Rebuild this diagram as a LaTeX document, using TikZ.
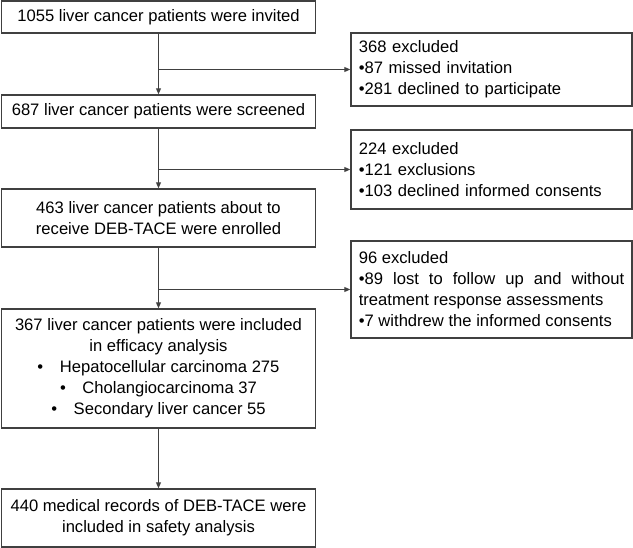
\documentclass[tikz,border=0pt]{standalone}
\usepackage{fontspec}
\setmainfont{Liberation Sans}
\usetikzlibrary{arrows.meta}
\definecolor{linegray}{RGB}{64,64,64}
\hyphenpenalty=10000
\tikzset{
  stage/.style={
    draw=linegray, line width=0.9pt, inner sep=0pt,
    minimum width=236pt, align=center,
    font=\fontsize{12.45}{15.75}\selectfont
  },
  excl/.style={
    draw=linegray, line width=0.9pt, inner sep=0pt,
    minimum width=210.75pt, text width=199pt, align=left,
    font=\fontsize{12.45}{15.75}\selectfont
  },
  flow/.style={
    draw=linegray, line width=0.8pt,
    -{Triangle[length=4.5pt,width=3.6pt]}
  }
}

\begin{document}
\begin{tikzpicture}[x=0.75pt,y=-0.75pt]
\useasboundingbox (0,0) rectangle (633,548);

% main column
\node [stage, minimum height=24pt] (invited) at (158.5,17) {1055 liver cancer patients were invited};
\node [stage, minimum height=24.75pt] (screened) at (158.5,111.5) {687 liver cancer patients were screened};
\node [stage, minimum height=43.5pt] (enrolled) at (158.5,218) {463 liver cancer patients about to\\receive DEB-TACE were enrolled};
\node [stage, minimum height=89.25pt] (efficacy) at (158.5,368.5) {367 liver cancer patients were included\\in efficacy analysis\\
  \textbullet\quad Hepatocellular carcinoma 275\\
  \textbullet\quad Cholangiocarcinoma 37\\
  \textbullet\quad Secondary liver cancer 55};
\node [stage, minimum height=43.5pt] (safety) at (158.5,518) {440 medical records of DEB-TACE were\\included in safety analysis};

% exclusions
\node [excl, minimum height=54.75pt] (excla) at (491.5,69.5) {368 excluded\\\textbullet87 missed invitation\\\textbullet281 declined to participate};
\node [excl, minimum height=59.25pt] (exclb) at (491.5,169.5) {224 excluded\\\textbullet121 exclusions\\\textbullet103 declined informed consents};
\node [excl, minimum height=72.75pt, align=justify] (exclc) at (491.5,289.5) {96 excluded\\\textbullet89 lost to follow up and without treatment response assessments\\\textbullet7 withdrew the informed consents};

\draw [flow] (invited) -- (screened);
\draw [flow] (screened) -- (enrolled);
\draw [flow] (enrolled) -- (efficacy);
\draw [flow] (efficacy) -- (safety);

\draw [flow] (invited.south |- excla.west) -- (excla.west);
\draw [flow] (screened.south |- exclb.west) -- (exclb.west);
\draw [flow] (enrolled.south |- exclc.west) -- (exclc.west);
\end{tikzpicture}
\end{document}
